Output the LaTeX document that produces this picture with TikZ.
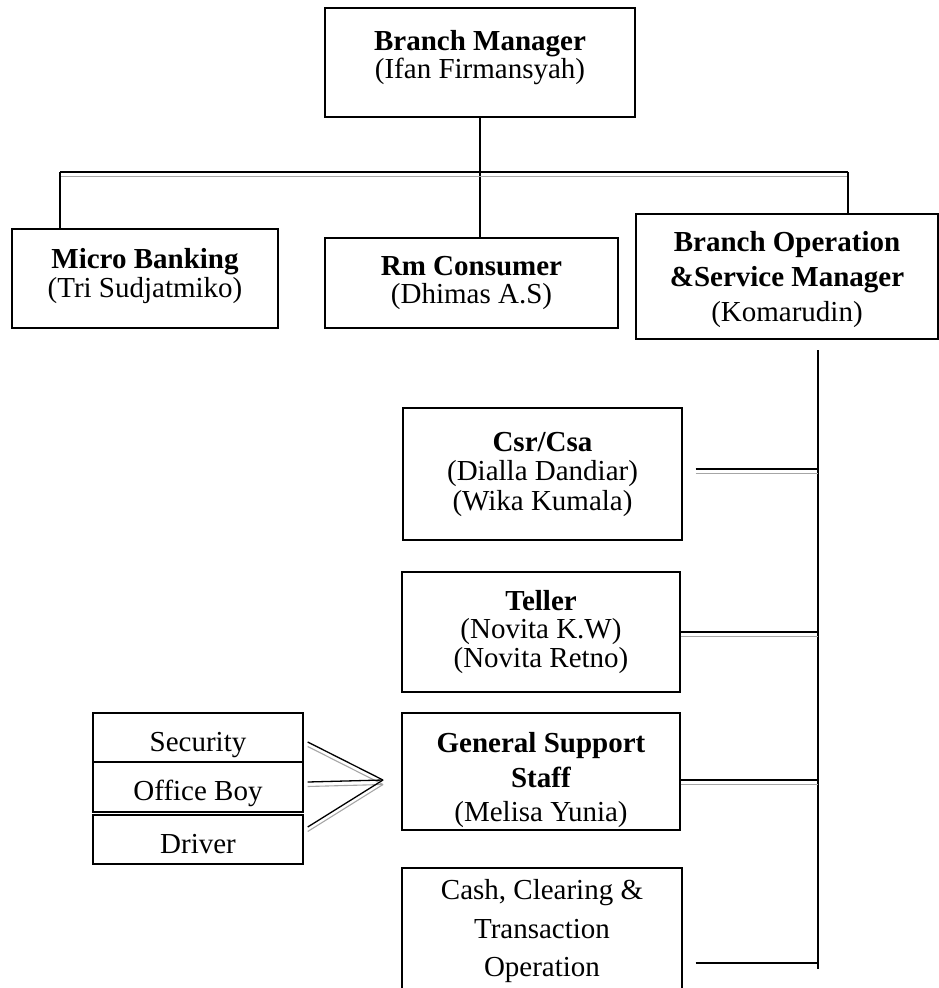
\documentclass[tikz,border=0pt]{standalone}
\usepackage{fontspec}
\setmainfont{Liberation Serif}
\usetikzlibrary{calc}
\begin{document}
\begin{tikzpicture}[x=1pt, y=-1pt]
    \tikzstyle{unit} = [rectangle, draw, line width=1.4pt, align=center, inner sep=0pt, font=\fontsize{29}{28.5}\selectfont]
    \tikzstyle{staff} = [unit, minimum width=210, text height=34pt, text depth=7pt]
    \tikzstyle{link} = [line width=1.3pt]
    \tikzstyle{dbl} = [link, postaction={draw=black!35, line width=1.1pt, transform canvas={yshift=-4.5pt}}]

    \useasboundingbox (0,0) rectangle (939,988);
    \clip (0,0) rectangle (939,988);

    \node [unit, minimum width=310, minimum height=109] (bm) at (480,62.5) {\textbf{Branch Manager}\\(Ifan Firmansyah)\rule[-16.5pt]{0pt}{16.5pt}};
    \node [unit, minimum width=266, minimum height=99] (micro) at (145,278.5) {\textbf{Micro Banking}\\(Tri Sudjatmiko)\rule[-11pt]{0pt}{11pt}};
    \node [unit, minimum width=293, minimum height=90] (rm) at (471.5,283) {\textbf{Rm Consumer}\\(Dhimas A.S)};
    \node [unit, minimum width=302, minimum height=125, font=\fontsize{29}{35}\selectfont] (bosm) at (787,276.5) {\rule{0pt}{27pt}\textbf{Branch Operation}\\\textbf{\&Service Manager}\\(Komarudin)};

    \node [unit, minimum width=279, minimum height=132, font=\fontsize{29}{29.5}\selectfont] (csr) at (542.5,474) {\textbf{Csr/Csa}\\(Dialla Dandiar)\\(Wika Kumala)};
    \node [unit, minimum width=278, minimum height=120] (teller) at (541,632) {\textbf{Teller}\\(Novita K.W)\\(Novita Retno)};
    \node [unit, minimum width=278, minimum height=117, font=\fontsize{29}{34.5}\selectfont] (gss) at (541,771.5) {\rule{0pt}{38pt}\textbf{General Support}\\\textbf{Staff}\\(Melisa Yunia)};
    \node [unit, minimum width=280, minimum height=127, font=\fontsize{29}{38.5}\selectfont] (cash) at (542,931.5) {Cash, Clearing \&\\Transaction\\Operation};

    \node [staff, minimum height=49] (sec) at (198,737.5) {Security};
    \node [staff, minimum height=50] (boy) at (198,787) {Office Boy};
    \node [staff, minimum height=49] (drv) at (198,839.5) {Driver};

    % top level
    \coordinate (barL) at (60,172);
    \coordinate (barR) at (848,172);
    \draw [link] (bm.south) -- (bm.south |- rm.north);
    \draw [dbl] (barL) -- (barR);
    \draw [link] (barL) -- (barL |- micro.north);
    \draw [link] (barR) -- (barR |- bosm.north);

    % operation line
    \coordinate (spineT) at (818,350);
    \coordinate (spineB) at (818,969);
    \draw [link] (spineT) -- (spineB);
    \draw [dbl] ($(csr.east)+(13,-5)$) -- ($(csr.east -| spineT)+(0,-5)$);
    \draw [dbl] (teller.east) -- (teller.east -| spineT);
    \draw [dbl] ($(gss.east)+(0,8.5)$) -- ($(gss.east -| spineT)+(0,8.5)$);
    \draw [link] ($(cash.east)+(13,31.5)$) -- ($(cash.east -| spineT)+(0,31.5)$);

    % support staff
    \coordinate (apex) at (383,780);
    \draw [dbl] ($(sec.east)+(4,4.5)$) -- (apex);
    \draw [dbl] ($(boy.east)+(4,-5)$) -- (apex);
    \draw [dbl] ($(drv.east)+(4,-12.5)$) -- (apex);
\end{tikzpicture}
\end{document}
